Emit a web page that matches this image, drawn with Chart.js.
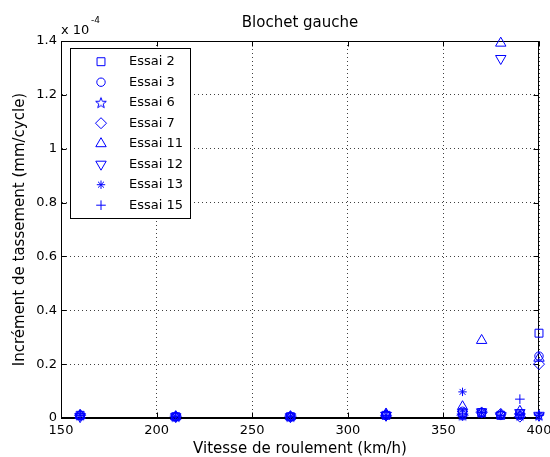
<!DOCTYPE html>
<html>
<head>
<meta charset="utf-8">
<script src="https://cdn.jsdelivr.net/npm/chart.js@4.4.0/dist/chart.umd.min.js"></script>
<style>
html, body { margin: 0; padding: 0; background: #fff; }
</style>
</head>
<body>
<canvas id="myChart" width="550" height="457"></canvas>
<script>
// vitesse de roulement (km/h)
vitesses = [160, 210, 270, 320, 360, 370, 380, 390, 400]

// increment de tassement, read in axis units (x 10^-4 mm/cycle)
essai2  = [0.010, 0.005, 0.005, 0.010, 0.020, 0.020, 0.010, 0.015, 0.315]
essai3  = [0.010, 0.005, 0.005, 0.010, 0.025, 0.020, 0.010, 0.010, 0.230]
essai6  = [0.010, 0.005, 0.005, 0.015, 0.010, 0.020, 0.015, 0.010, 0.010]
essai7  = [0.010, 0.005, 0.005, 0.010, 0.010, 0.020, 0.015, 0.005, 0.200]
essai11 = [0.010, 0.005, 0.005, 0.015, 0.042, 0.288, 1.392, 0.025, 0.222]
essai12 = [0.005, 0.005, 0.005, 0.010, 0.015, 0.023, 1.335, 0.020, 0.010]
essai13 = [0.010, 0.005, 0.005, 0.010, 0.097, 0.020, 0.010, 0.010, 0.010]
essai15 = [0.010, 0.005, 0.005, 0.010, 0.015, 0.020, 0.010, 0.070, 0.010]

xTicks = [150, 200, 250, 300, 350, 400]
yTicks = [0, 0.2, 0.4, 0.6, 0.8, 1, 1.2, 1.4]

const BLUE = '#0000ff'
const FONT = '"DejaVu Sans", "Liberation Sans", sans-serif'

// matlab pentagram marker, chart.js has no 5-point star
function makePentagram()
{
    var c = document.createElement('canvas')
    c.width = 14; c.height = 14
    var g = c.getContext('2d')
    g.strokeStyle = BLUE
    g.lineWidth = 1
    g.beginPath()
    for (var k = 0; k < 10; k++) {
        var r = (k % 2 === 0) ? 5.6 : 2.3
        var a = -Math.PI / 2 + k * Math.PI / 5
        var px = 7 + r * Math.cos(a), py = 7.4 + r * Math.sin(a)
        if (k === 0) g.moveTo(px, py); else g.lineTo(px, py)
    }
    g.closePath()
    g.stroke()
    return c
}
var pentagram = makePentagram()

function serie(label, values, style, radius, rotation)
{
    return {
        label: label,
        data: vitesses.map(function (v, i) { return {x: v, y: values[i]} }),
        pointStyle: style,
        pointRadius: radius,
        pointHoverRadius: radius,
        pointRotation: rotation || 0,
        borderColor: BLUE,
        backgroundColor: 'rgba(0,0,0,0)',
        pointBorderWidth: 1,
        showLine: false,
        clip: false
    }
}

// box, inward ticks, "x 10^-4" and the legend inside the axes
const matlabAxes = {
    id: 'matlabAxes',
    beforeDatasetsDraw(chart) {
        const ctx = chart.ctx, a = chart.chartArea
        const sx = chart.scales.x, sy = chart.scales.y
        const L = Math.round(a.left) + 0.5, R = Math.round(a.right) - 0.5
        const T = Math.round(a.top) + 0.5, B = Math.round(a.bottom) - 0.5
        ctx.save()
        ctx.strokeStyle = '#000'
        ctx.lineWidth = 1
        ctx.beginPath()
        ctx.moveTo(L, B); ctx.lineTo(L, T); ctx.lineTo(R, T); ctx.lineTo(R, B); ctx.lineTo(L, B)
        xTicks.forEach(function (v) {
            var px = Math.round(sx.getPixelForValue(v)) + 0.5
            ctx.moveTo(px, B); ctx.lineTo(px, B - 5)
            ctx.moveTo(px, T); ctx.lineTo(px, T + 5)
        })
        yTicks.forEach(function (v) {
            var py = Math.round(sy.getPixelForValue(v)) + 0.5
            ctx.moveTo(L, py); ctx.lineTo(L + 5, py)
            ctx.moveTo(R, py); ctx.lineTo(R - 5, py)
        })
        ctx.stroke()

        ctx.fillStyle = '#000'
        ctx.textBaseline = 'alphabetic'
        ctx.textAlign = 'left'
        ctx.font = '13px ' + FONT
        ctx.fillText('x 10', 61, 34)
        ctx.font = '9px ' + FONT
        ctx.fillText('-4', 91, 23)
        ctx.restore()
    },
    afterDraw(chart) {
        const ctx = chart.ctx
        ctx.save()
        ctx.fillStyle = '#fff'
        ctx.fillRect(70.5, 48.5, 120, 170)
        ctx.strokeStyle = '#000'
        ctx.lineWidth = 1
        ctx.strokeRect(70.5, 48.5, 120, 170)
        chart.data.datasets.forEach(function (ds, i) {
            var y = 61.7 + i * 20.5
            ctx.strokeStyle = BLUE
            ctx.fillStyle = 'rgba(0,0,0,0)'
            ctx.lineWidth = 1
            Chart.helpers.drawPoint(ctx, {
                pointStyle: ds.pointStyle,
                radius: ds.pointRadius,
                rotation: ds.pointRotation,
                borderWidth: 1
            }, 101, y)
            ctx.fillStyle = '#000'
            ctx.font = '13px ' + FONT
            ctx.textBaseline = 'middle'
            ctx.textAlign = 'left'
            ctx.fillText(ds.label, 129, y)
        })
        ctx.restore()
    }
}

var ctx = document.getElementById('myChart').getContext('2d')
var myChart = new Chart(ctx, {
    type: 'scatter',
    data: {
        datasets: [
            serie('Essai 2', essai2, 'rect', 5.6),
            serie('Essai 3', essai3, 'circle', 4.2),
            serie('Essai 6', essai6, pentagram, 5),
            serie('Essai 7', essai7, 'rectRot', 5.5),
            serie('Essai 11', essai11, 'triangle', 6),
            serie('Essai 12', essai12, 'triangle', 6, 180),
            serie('Essai 13', essai13, 'star', 4.2),
            serie('Essai 15', essai15, 'cross', 4.8)
        ]
    },
    plugins: [matlabAxes],
    options: {
        responsive: false,
        animation: false,
        devicePixelRatio: 1,
        layout: { padding: { left: 0, right: 11, top: 0, bottom: 0 } },
        plugins: {
            legend: { display: false },
            tooltip: { enabled: false },
            title: {
                display: true,
                text: 'Blochet gauche',
                fullSize: false,
                color: '#000',
                font: { family: FONT, size: 15, weight: 'normal', lineHeight: 1.2 },
                padding: { top: 14, bottom: 9 }
            }
        },
        scales: {
            x: {
                type: 'linear',
                position: 'bottom',
                min: 150,
                max: 400,
                afterFit: function (s) { s.height = 39; s.paddingLeft = 0; s.paddingRight = 0 },
                afterBuildTicks: function (s) { s.ticks = xTicks.map(function (v) { return {value: v} }) },
                ticks: { color: '#000', padding: 5, maxRotation: 0, font: { family: FONT, size: 13 } },
                grid: { color: 'rgba(0,0,0,0.75)', lineWidth: 1, drawTicks: false },
                border: { display: true, color: '#000', dash: [1, 3] },
                title: {
                    display: true,
                    text: 'Vitesse de roulement (km/h)',
                    color: '#000',
                    font: { family: FONT, size: 15, lineHeight: 1 },
                    padding: { top: 0, bottom: 0 }
                }
            },
            y: {
                type: 'linear',
                min: 0,
                max: 1.4,
                afterFit: function (s) { s.width = 61 },
                afterBuildTicks: function (s) { s.ticks = yTicks.map(function (v) { return {value: v} }) },
                ticks: {
                    color: '#000',
                    padding: 4,
                    font: { family: FONT, size: 13 },
                    callback: function (v) { return String(Math.round(v * 10) / 10) }
                },
                grid: { color: 'rgba(0,0,0,0.75)', lineWidth: 1, drawTicks: false },
                border: { display: true, color: '#000', dash: [1, 3] },
                title: {
                    display: true,
                    text: 'Incrément de tassement (mm/cycle)',
                    color: '#000',
                    font: { family: FONT, size: 15, lineHeight: 1.2 },
                    padding: { top: 11, bottom: 0 }
                }
            }
        }
    }
});
</script>
</body>
</html>
